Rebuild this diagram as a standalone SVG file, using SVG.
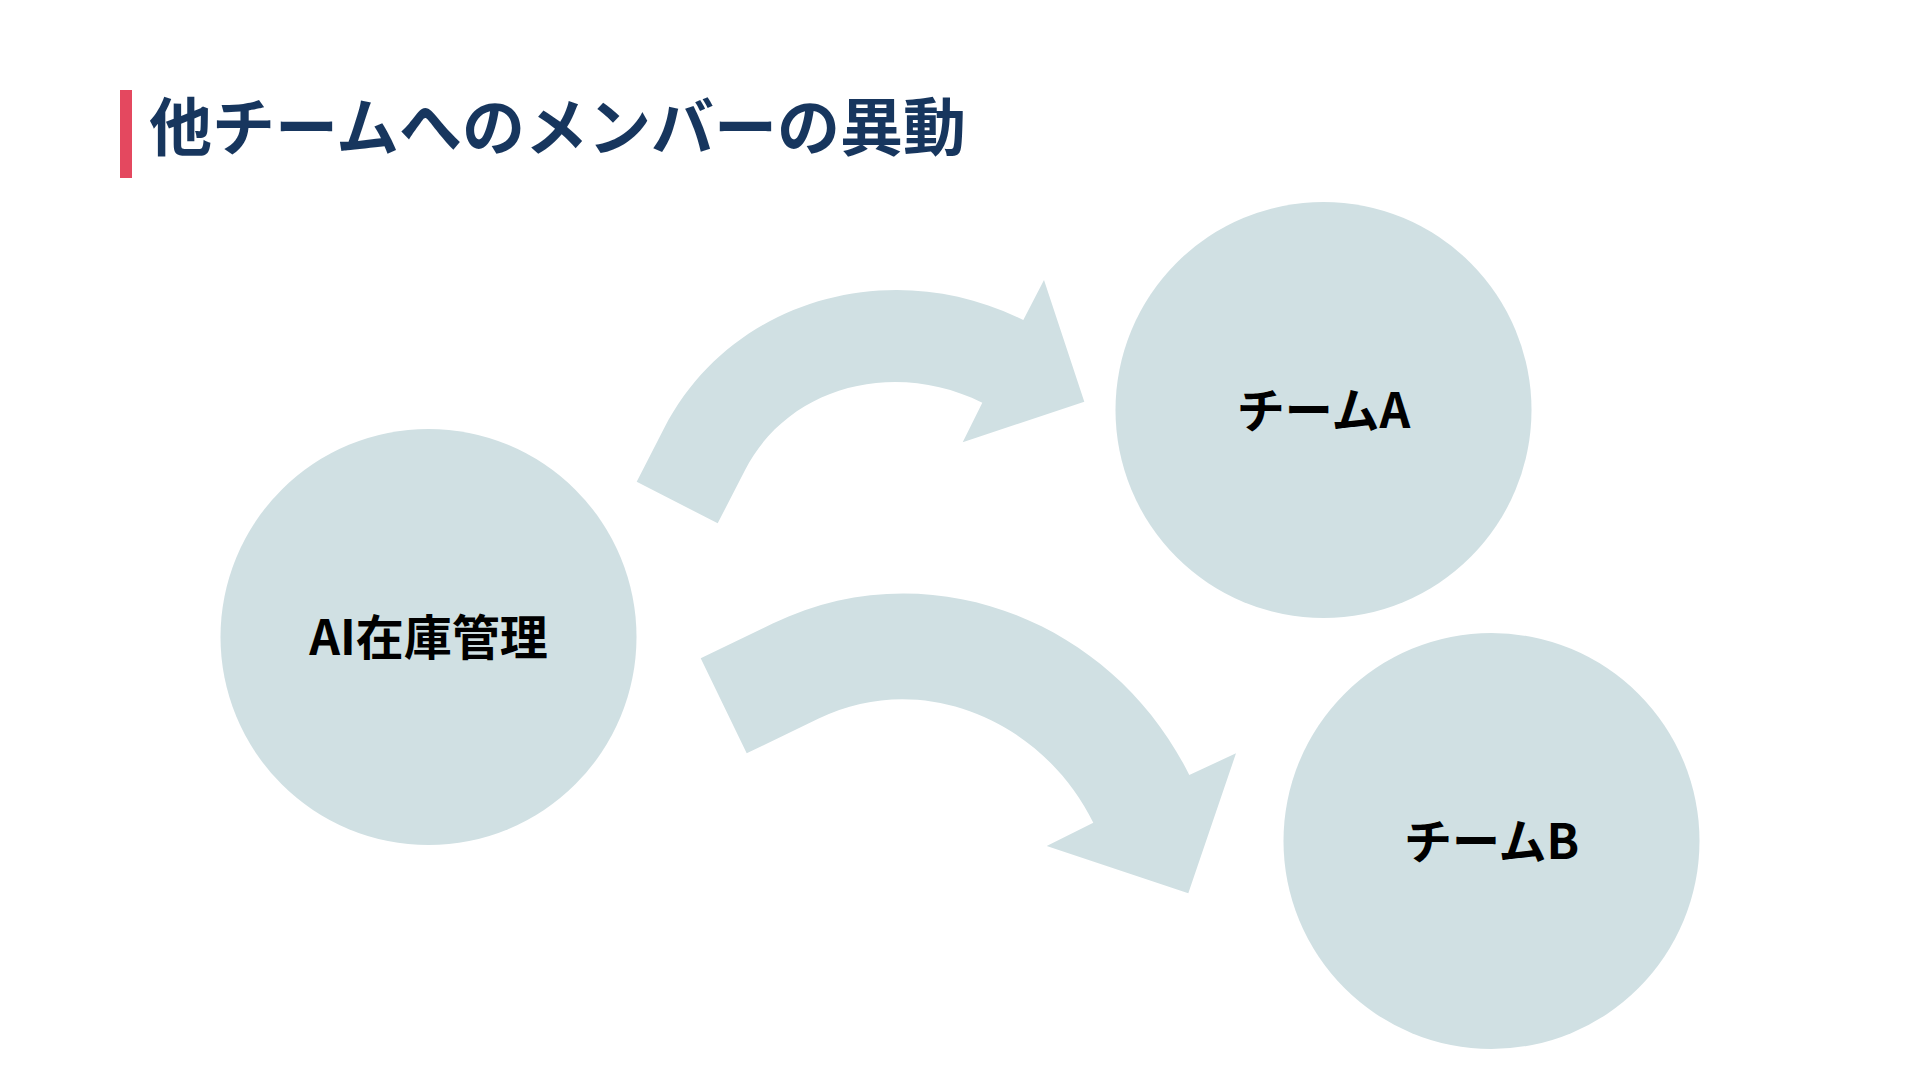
<svg xmlns="http://www.w3.org/2000/svg" width="1920" height="1080" viewBox="0 0 1920 1080">
  <style>
    .node { fill: #d0e0e3; }
    .arrow { fill: #d0e0e3; }
    .label { font-family: "Noto Sans CJK JP", "Noto Sans", sans-serif; font-weight: 700; font-size: 48px; fill: #000000; text-anchor: middle; }
    .title { font-family: "Noto Sans CJK JP", "Noto Sans", sans-serif; font-weight: 700; font-size: 63px; fill: #17365e; }
  </style>
  <rect x="0" y="0" width="1920" height="1080" fill="#ffffff"/>
  <g id="title">
    <rect x="120" y="90" width="12" height="88" fill="#e4485f"/>
    <text class="title" x="149" y="150">他チームへのメンバーの異動</text>
  </g>
  <g id="connectors">
    <path id="arrow-to-team-a" class="arrow" d="M 636.7 481.7 L 664.1 428.3 C 730.9 298.2 892.6 254.5 1023.3 320 L 1044 280 L 1084.3 401.7 L 962.7 442.3 L 982.3 402.7 C 896.4 359.6 789 384.4 745.1 469.9 L 717.7 523.3 Z"/>
    <path id="arrow-to-team-b" class="arrow" d="M 700.7 658.3 L 772.7 623.5 C 928.2 548.2 1112.9 620 1189.3 775 L 1236 753.3 L 1188.3 893.3 L 1046.7 846 L 1093.3 822.7 C 1042.7 720 921.7 668.6 818.7 718.5 L 746.7 753.3 Z"/>
  </g>
  <g id="node-ai">
    <circle class="node" cx="428.5" cy="637" r="208"/>
    <text class="label" x="428.5" y="655">AI在庫管理</text>
  </g>
  <g id="node-team-a">
    <circle class="node" cx="1323.5" cy="410" r="208"/>
    <text class="label" x="1323.5" y="428">チームA</text>
  </g>
  <g id="node-team-b">
    <circle class="node" cx="1491.5" cy="841" r="208"/>
    <text class="label" x="1491.5" y="859">チームB</text>
  </g>
</svg>
